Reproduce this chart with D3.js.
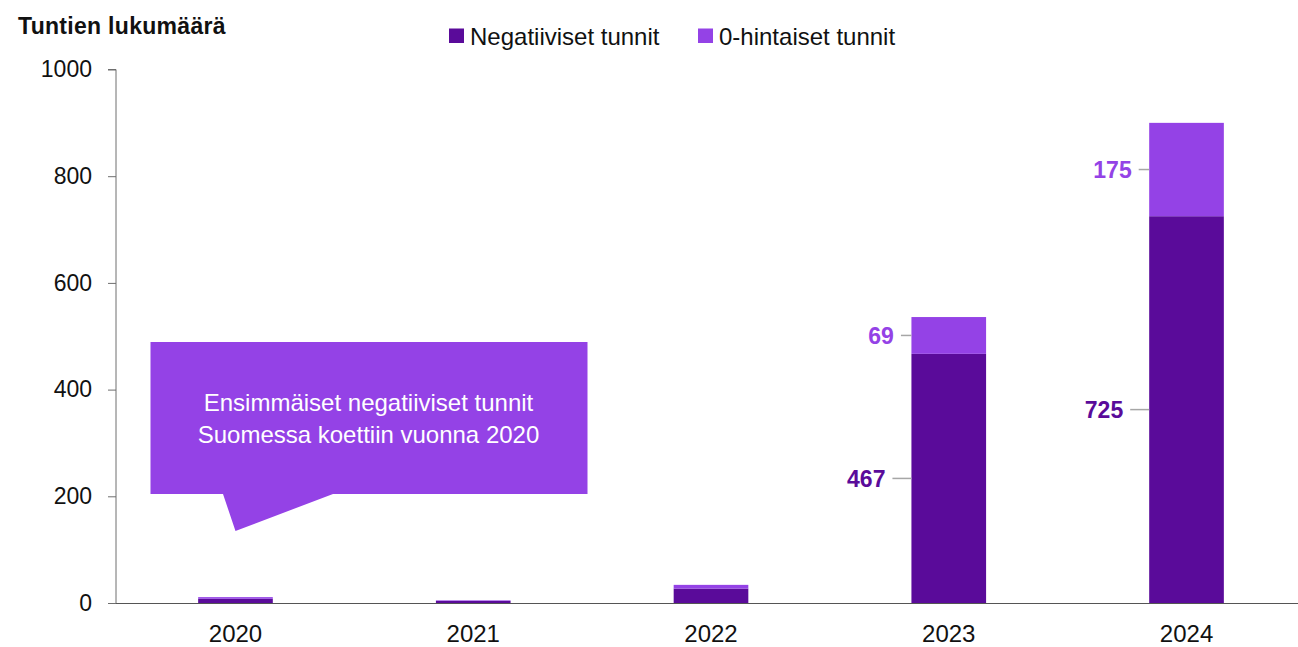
<!DOCTYPE html>
<html>
<head>
<meta charset="utf-8">
<script src="https://cdn.jsdelivr.net/npm/d3@7"></script>
<style>
  html, body { margin: 0; padding: 0; background: #fff; }
  svg { display: block; font-family: "Liberation Sans", Arial, sans-serif; }
</style>
</head>
<body>
<svg id="chart" width="1298" height="647"></svg>
<script>
// Hours per year with negative and zero electricity prices in Finland
const years = ["2020", "2021", "2022", "2023", "2024"];
const negativeHours = [8, 4, 27, 467, 725];
const zeroHours = [3, 1, 7, 69, 175];
const yTicks = [0, 200, 400, 600, 800, 1000];
const seriesNames = ["Negatiiviset tunnit", "0-hintaiset tunnit"];
const labelledYears = ["2023", "2024"];
const calloutLines = ["Ensimmäiset negatiiviset tunnit", "Suomessa koettiin vuonna 2020"];

const DARK = "#5a0b9a";
const LIGHT = "#9442e6";
const AXIS = "#6e6e6e";

const svg = d3.select("#chart");

const x = d3.scaleBand()
  .domain(years)
  .range([116.6, 1305.4])
  .paddingInner(0.686)
  .paddingOuter(0.343);

const y = d3.scaleLinear().domain([0, 1000]).range([603, 69.5]);

const rows = years.map((yr, i) => ({ year: yr, neg: negativeHours[i], zero: zeroHours[i] }));
const stacked = d3.stack().keys(["neg", "zero"])(rows);
const colors = [DARK, LIGHT];

// Stacked bars
svg.append("g").selectAll("g")
  .data(stacked)
  .join("g")
  .attr("fill", (d, i) => colors[i])
  .selectAll("rect")
  .data(d => d)
  .join("rect")
  .attr("x", d => x(d.data.year))
  .attr("width", x.bandwidth())
  .attr("y", d => y(d[1]))
  .attr("height", d => y(d[0]) - y(d[1]));

// Y axis
const yAxis = svg.append("g")
  .attr("transform", "translate(116,0)")
  .call(d3.axisLeft(y).tickValues(yTicks).tickSize(8).tickPadding(16).tickFormat(d3.format("d")));
yAxis.select(".domain").attr("stroke", AXIS).attr("d", `M-8,${y(1000)}H0V${y(0)}`);
yAxis.selectAll(".tick line").attr("stroke", AXIS);
yAxis.selectAll(".tick text").attr("font-size", 23).attr("fill", "#111").attr("font-family", "Liberation Sans, Arial, sans-serif");

// X axis
const xAxis = svg.append("g")
  .attr("transform", `translate(0,${y(0)})`)
  .call(d3.axisBottom(x).tickSize(0).tickPadding(22));
xAxis.select(".domain").attr("stroke", "#555").attr("d", "M116,0.5H1298");
xAxis.selectAll(".tick text").attr("font-size", 24).attr("fill", "#111").attr("font-family", "Liberation Sans, Arial, sans-serif");

// Axis title
svg.append("text")
  .attr("x", 18).attr("y", 34)
  .attr("font-size", 23).attr("font-weight", "bold")
  .attr("letter-spacing", 0.3)
  .attr("fill", "#111")
  .text("Tuntien lukumäärä");

// Legend
const legendX = [449, 698];
const legend = svg.append("g");
seriesNames.forEach((name, i) => {
  legend.append("rect")
    .attr("x", legendX[i]).attr("y", 28.5)
    .attr("width", 15).attr("height", 14.5)
    .attr("fill", colors[i]);
  legend.append("text")
    .attr("x", legendX[i] + 21).attr("y", 44.5)
    .attr("font-size", 24).attr("fill", "#111")
    .text(name);
});

// Segment value labels with leader lines
const labelGroup = svg.append("g");
stacked.forEach((layer, i) => {
  layer.forEach(d => {
    if (!labelledYears.includes(d.data.year)) return;
    const left = x(d.data.year);
    const cy = y((d[0] + d[1]) / 2);
    const lineLen = i === 0 ? 19 : 10.5;
    labelGroup.append("line")
      .attr("x1", left - lineLen).attr("x2", left)
      .attr("y1", cy).attr("y2", cy)
      .attr("stroke", "#a6a6a6").attr("stroke-width", 1.5);
    labelGroup.append("text")
      .attr("x", left - lineLen - 7).attr("y", cy)
      .attr("dy", "0.36em")
      .attr("text-anchor", "end")
      .attr("font-size", 23).attr("font-weight", "bold")
      .attr("fill", colors[i])
      .text(d[1] - d[0]);
  });
});

// Callout bubble pointing at the 2020 bar
const tipX = x("2020") + x.bandwidth() / 2;
const tipY = y(135);
const box = { x0: 150.5, x1: 587.5, y0: 342, y1: 494 };
const callout = svg.append("g");
callout.append("path")
  .attr("d", `M${box.x0},${box.y0}H${box.x1}V${box.y1}H333L${tipX},${tipY}L223,${box.y1}H${box.x0}Z`)
  .attr("fill", LIGHT);
calloutLines.forEach((line, i) => {
  callout.append("text")
    .attr("x", 368.5).attr("y", 411 + i * 32)
    .attr("text-anchor", "middle")
    .attr("font-size", 24).attr("fill", "#fff")
    .text(line);
});
</script>
</body>
</html>
